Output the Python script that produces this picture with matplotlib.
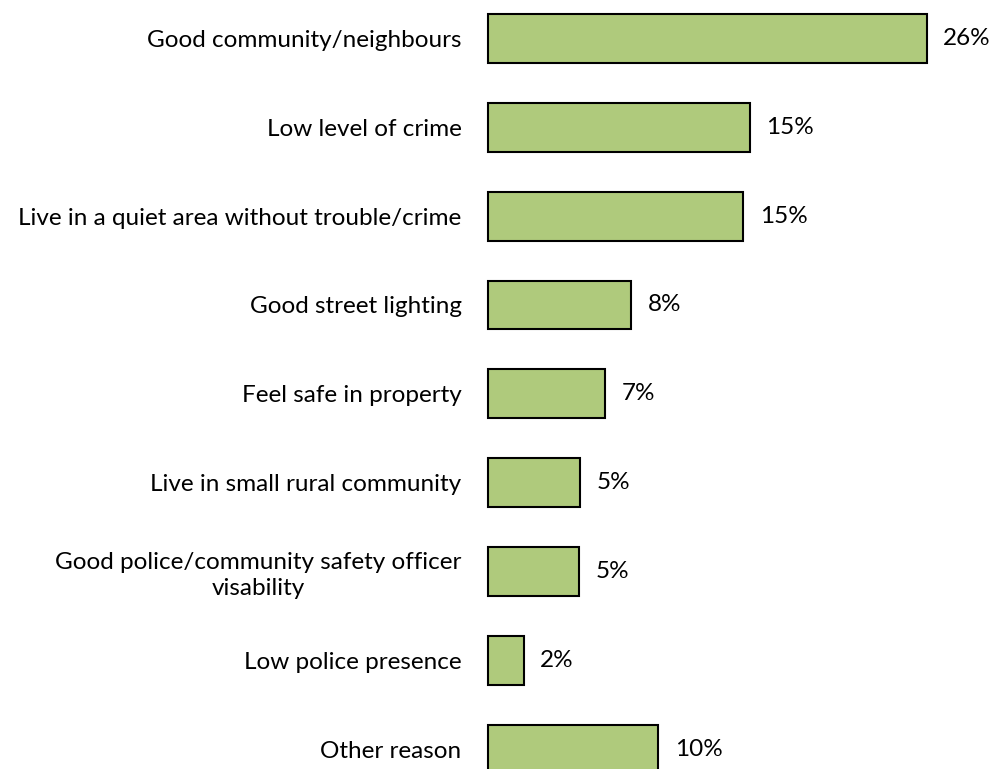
import matplotlib
matplotlib.use("Agg")
import matplotlib.pyplot as plt

categories = [
    "Good community/neighbours",
    "Low level of crime",
    "Live in a quiet area without trouble/crime",
    "Good street lighting",
    "Feel safe in property",
    "Live in small rural community",
    "Good police/community safety officer\nvisability",
    "Low police presence",
    "Other reason",
]
values = [25.8, 15.4, 15.0, 8.4, 6.9, 5.4, 5.35, 2.1, 10.0]

bar_color = "#AFCA7C"
plt.rcParams["font.family"] = ["Lato", "DejaVu Sans"]

fig = plt.figure(figsize=(9.92, 7.69), dpi=100)
ax = fig.add_axes([488 / 992, 0.0, 30 * 17 / 992, 1.0])

ypos = list(range(len(categories)))
bars = ax.barh(ypos, values, height=0.55, color=bar_color, edgecolor="black", linewidth=1.5)
for b in bars:
    b.set_clip_on(False)
ax.set_xlim(0, 30)
ax.set_ylim(8.225, -0.434)

for y, v in zip(ypos, values):
    ax.annotate(f"{v:.0f}%", xy=(v, y), xytext=(12, 0), textcoords="offset points",
                ha="left", va="center", fontsize=17.5)

ax.set_yticks(ypos)
ax.set_yticklabels(categories, fontsize=17.5, multialignment="center", linespacing=1.3)
ax.tick_params(axis="y", length=0, pad=19)
ax.set_xticks([])
for s in ax.spines.values():
    s.set_visible(False)

fig.savefig("out.png", dpi=100)
